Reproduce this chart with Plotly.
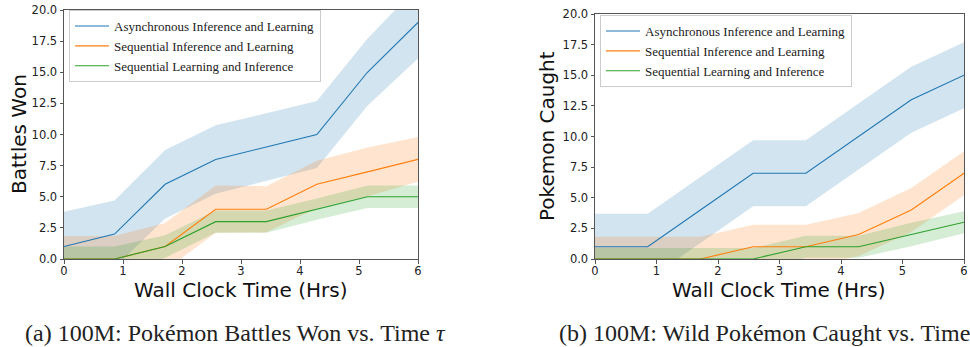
import plotly.graph_objects as go

# ---------------- data ----------------
x_hrs = [0, 0.857, 1.714, 2.571, 3.429, 4.286, 5.143, 6]
series_names = ["Asynchronous Inference and Learning",
                "Sequential Inference and Learning",
                "Sequential Learning and Inference"]

# (a) Battles won
battles_async_mean = [1, 2, 6, 8, 9, 10, 15, 19]
battles_async_std = [2.8, 2.7, 2.75, 2.75, 2.7, 2.7, 2.7, 2.9]
battles_seqIL_mean = [0, 0, 1, 4, 4, 6, 7, 8]
battles_seqIL_std = [1.85, 1.85, 1.9, 1.9, 1.85, 1.9, 1.95, 1.8]
battles_seqLI_mean = [0, 0, 1, 3, 3, 4, 5, 5]
battles_seqLI_std = [1.0, 1.0, 0.9, 0.9, 0.9, 0.85, 0.9, 0.9]

# (b) Wild Pokemon caught
caught_async_mean = [1, 1, 4, 7, 7, 10, 13, 15]
caught_async_std = [2.7, 2.7, 2.7, 2.7, 2.7, 2.7, 2.7, 2.7]
caught_seqIL_mean = [0, 0, 0, 1, 1, 2, 4, 7]
caught_seqIL_std = [1.82, 1.82, 1.82, 1.8, 1.8, 1.75, 1.8, 1.8]
caught_seqLI_mean = [0, 0, 0, 0, 1, 1, 2, 3]
caught_seqLI_std = [0.9, 0.9, 0.9, 0.9, 0.9, 0.9, 0.95, 0.9]

x_ticks = [0, 1, 2, 3, 4, 5, 6]
y_ticks = [0, 2.5, 5, 7.5, 10, 12.5, 15, 17.5, 20]
y_ticklabels = ["0.0", "2.5", "5.0", "7.5", "10.0", "12.5", "15.0", "17.5", "20.0"]

colors = ["#1f77b4", "#ff7f0e", "#2ca02c"]
fills = ["rgba(31,119,180,0.2)", "rgba(255,127,14,0.2)", "rgba(44,160,44,0.2)"]

panels = [
    dict(xa="x", ya="y", legend="legend",
         means=[battles_async_mean, battles_seqIL_mean, battles_seqLI_mean],
         stds=[battles_async_std, battles_seqIL_std, battles_seqLI_std]),
    dict(xa="x2", ya="y2", legend="legend2",
         means=[caught_async_mean, caught_seqIL_mean, caught_seqLI_mean],
         stds=[caught_async_std, caught_seqIL_std, caught_seqLI_std]),
]

fig = go.Figure()
for p in panels:
    # bands first
    for i, (m, s) in enumerate(zip(p["means"], p["stds"])):
        upper = [a + b for a, b in zip(m, s)]
        lower = [a - b for a, b in zip(m, s)]
        fig.add_trace(go.Scatter(
            x=x_hrs + x_hrs[::-1], y=upper + lower[::-1],
            fill="toself", fillcolor=fills[i], line=dict(width=0),
            mode="lines", hoverinfo="skip", showlegend=False,
            xaxis=p["xa"], yaxis=p["ya"]))
    for i, m in enumerate(p["means"]):
        fig.add_trace(go.Scatter(
            x=x_hrs, y=m, mode="lines", name=series_names[i],
            line=dict(color=colors[i], width=1.1),
            xaxis=p["xa"], yaxis=p["ya"], legend=p["legend"]))

W, H = 970, 347
def px(v): return v / W
def py(v): return 1 - v / H

axis_common = dict(showline=True, mirror=True, linecolor="#555", linewidth=1,
                   ticks="outside", ticklen=3.5, tickwidth=1, tickcolor="#555",
                   showgrid=False, zeroline=False, automargin=False,
                   tickfont=dict(family="DejaVu Sans", size=11.5, color="#222"))

legend_common = dict(xanchor="left", yanchor="top", itemwidth=34,
                     bgcolor="rgba(255,255,255,0.8)", bordercolor="#cccccc", borderwidth=1,
                     font=dict(family="Liberation Serif", size=13, color="#222"))

fig.update_layout(
    width=W, height=H, autosize=False,
    margin=dict(l=0, r=0, t=0, b=0, pad=0),
    paper_bgcolor="white", plot_bgcolor="white",
    xaxis=dict(domain=[px(64), px(418)], range=[0, 6], tickvals=x_ticks,
               anchor="y", ticklabelstandoff=-2, **axis_common),
    yaxis=dict(domain=[py(259), py(10)], range=[0, 20], tickvals=y_ticks,
               ticktext=y_ticklabels, anchor="x", **axis_common),
    xaxis2=dict(domain=[px(595), px(964)], range=[0, 6], tickvals=x_ticks,
                anchor="y2", ticklabelstandoff=-2, **axis_common),
    yaxis2=dict(domain=[py(259), py(14)], range=[0, 20], tickvals=y_ticks,
                ticktext=y_ticklabels, anchor="x2", **axis_common),
    legend=dict(x=px(69), y=py(10), **legend_common),
    legend2=dict(x=px(600), y=py(15), **legend_common),
)

title_font = dict(family="DejaVu Sans", size=20, color="#111")
cap_font = dict(family="Liberation Serif", size=24, color="#222")
annots = [
    dict(text="Wall Clock Time (Hrs)", x=px(241), y=py(289.5), font=title_font),
    dict(text="Wall Clock Time (Hrs)", x=px(779), y=py(289.5), font=title_font),
    dict(text="Battles Won", x=px(19), y=py(134), textangle=-90, font=title_font),
    dict(text="Pokemon Caught", x=px(547), y=py(136), textangle=-90, font=title_font),
    dict(text="(a) 100M: Pokémon Battles Won vs. Time <i>τ</i>", x=px(235), y=py(333),
         font=cap_font),
    dict(text="(b) 100M: Wild Pokémon Caught vs. Time", x=px(557), y=py(333),
         xanchor="left", font=cap_font),
]
for a in annots:
    a.setdefault("xanchor", "center")
    fig.add_annotation(xref="paper", yref="paper", showarrow=False,
                       yanchor="middle", **a)

fig.write_html("out.html",
               config={"displayModeBar": False},
               post_script="document.body.style.margin='0px';"
                           "document.body.style.overflow='hidden';")
